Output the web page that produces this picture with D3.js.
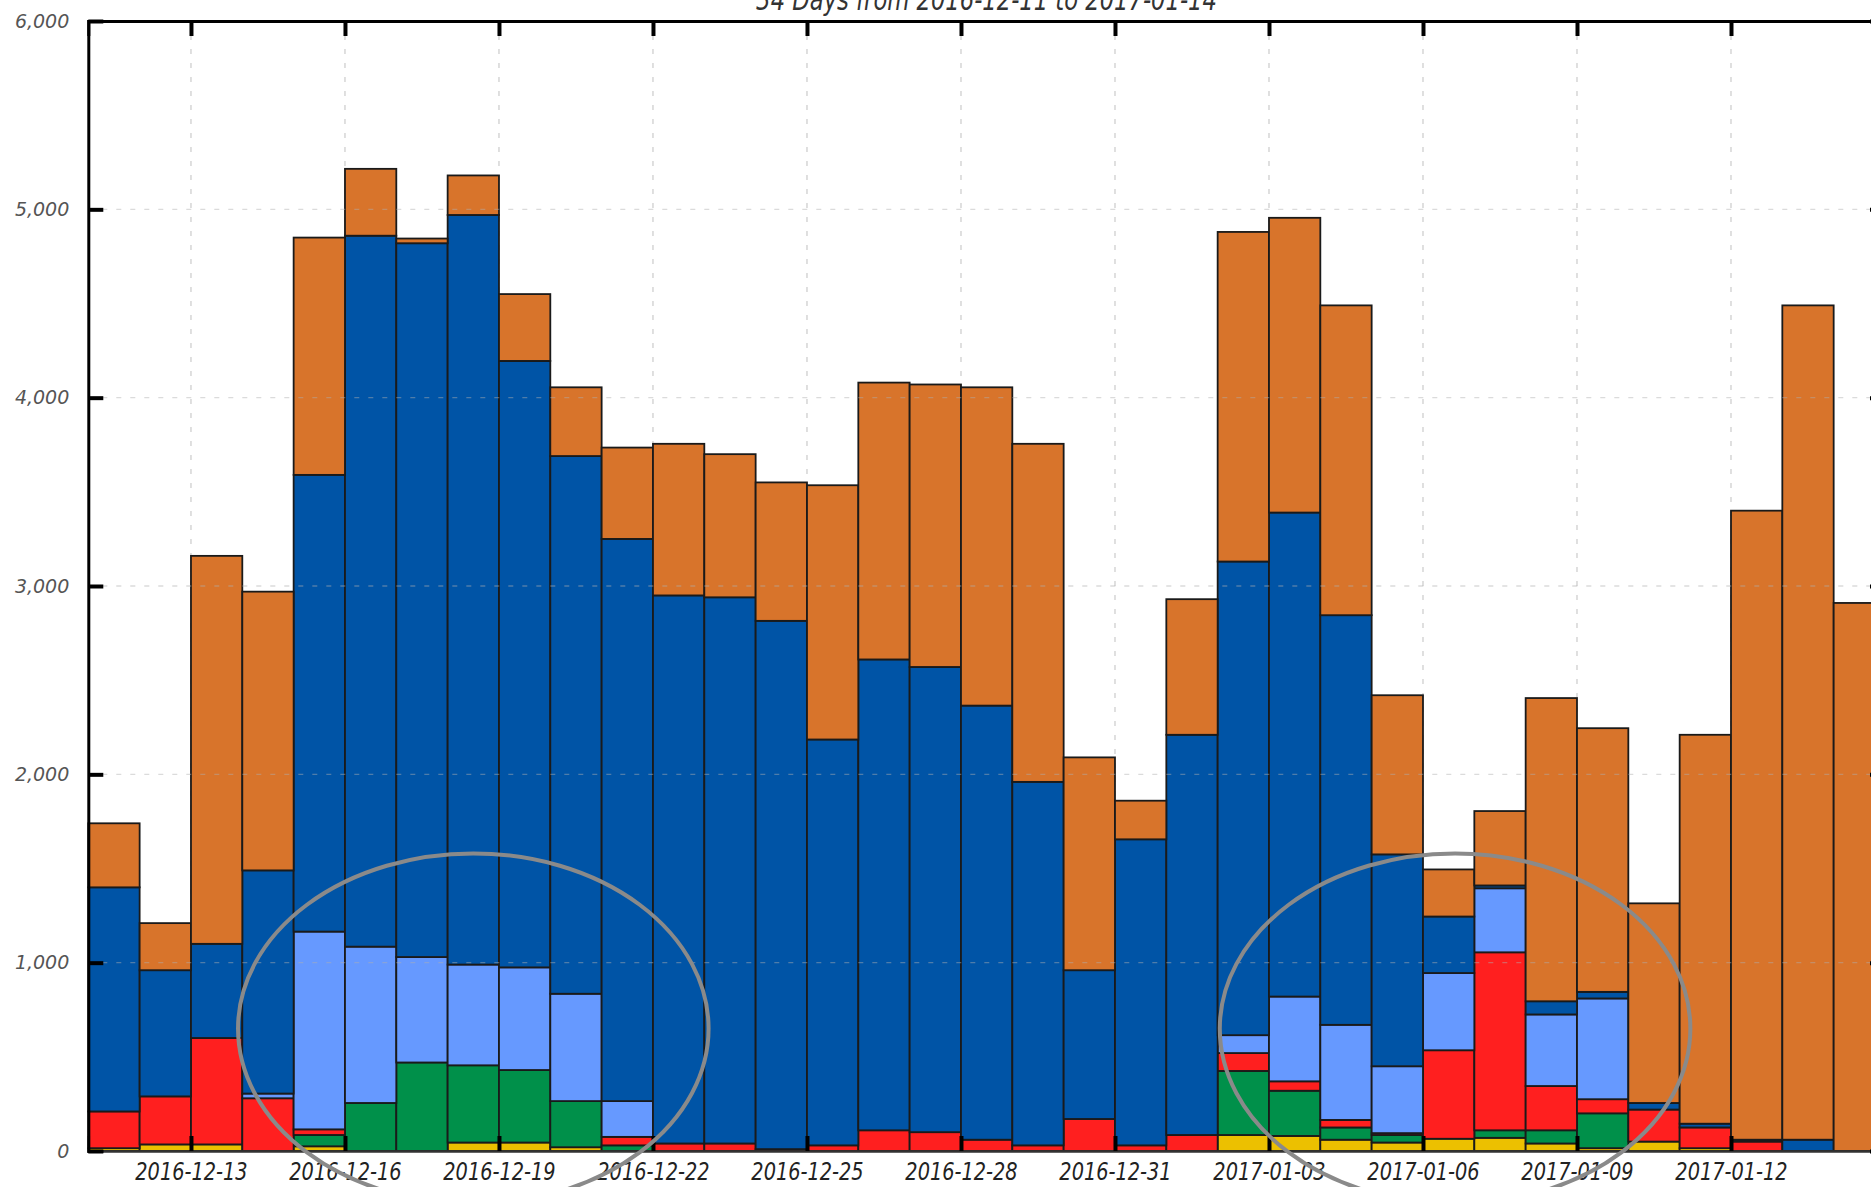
<!DOCTYPE html>
<html>
<head>
<meta charset="utf-8">
<script src="https://cdn.jsdelivr.net/npm/d3@7"></script>
<style>
  html, body { margin: 0; padding: 0; background: #fff; }
  svg { display: block; }
  .xlab text { font-family: "DejaVu Sans Condensed", "DejaVu Sans", sans-serif; font-style: italic; font-size: 25px; fill: #222; }
  .ylab text { font-family: "DejaVu Sans", sans-serif; font-style: italic; font-size: 19px; fill: #555; }
  .title { font-family: "DejaVu Sans Condensed", "DejaVu Sans", sans-serif; font-style: italic; font-size: 30px; fill: #333; }
</style>
</head>
<body>
<svg id="chart" width="1871" height="1187"></svg>
<script>
// One bar per day
const days = [
  "2016-12-11","2016-12-12","2016-12-13","2016-12-14","2016-12-15","2016-12-16","2016-12-17",
  "2016-12-18","2016-12-19","2016-12-20","2016-12-21","2016-12-22","2016-12-23","2016-12-24",
  "2016-12-25","2016-12-26","2016-12-27","2016-12-28","2016-12-29","2016-12-30","2016-12-31",
  "2017-01-01","2017-01-02","2017-01-03","2017-01-04","2017-01-05","2017-01-06","2017-01-07",
  "2017-01-08","2017-01-09","2017-01-10","2017-01-11","2017-01-12","2017-01-13","2017-01-14"
];

// Stacked series, bottom to top
const yellow    = [15,35,35,0,25,0,0,45,45,20,0,0,0,0,0,0,0,0,0,0,0,0,85,80,60,45,65,70,40,15,50,15,0,0,0];
const green     = [0,0,0,0,60,255,470,410,385,245,30,0,0,0,0,0,0,0,0,0,0,0,340,240,65,40,0,40,70,185,0,0,0,0,0];
const red       = [195,255,565,280,30,0,0,0,0,0,45,40,40,10,30,110,100,60,30,170,30,85,95,50,40,10,470,945,235,75,170,110,50,0,0];
const lightBlue = [0,0,0,25,1050,830,560,535,545,570,190,0,0,0,0,0,0,0,0,0,0,0,95,450,505,355,410,340,380,535,0,0,0,0,0];
const darkBlue  = [1190,670,500,1185,2425,3775,3790,3980,3220,2855,2985,2910,2900,2805,2155,2500,2470,2305,1930,790,1625,2125,2515,2570,2175,1125,300,15,70,35,35,20,10,60,0];
const orange    = [340,250,2060,1480,1260,355,25,210,355,365,485,805,760,735,1350,1470,1500,1690,1795,1130,205,720,1750,1565,1645,845,250,395,1610,1400,1060,2065,3340,4430,2910];

const seriesKeys   = ["yellow","green","red","lightBlue","darkBlue","orange"];
const seriesColors = ["#ecc000","#00904a","#ff1f1f","#6699ff","#0054a6","#d8742b"];

const xTickDays = ["2016-12-13","2016-12-16","2016-12-19","2016-12-22","2016-12-25","2016-12-28",
                   "2016-12-31","2017-01-03","2017-01-06","2017-01-09","2017-01-12"];
const yTicks = [0,1000,2000,3000,4000,5000,6000];
const titleText = "34 Days from 2016-12-11 to 2017-01-14";

// Highlighted regions: centre time, centre value, half-width in days, half-height in units
const highlights = [
  { centre: "2016-12-18T12:00", value: 650, halfDays: 4.6, halfValue: 930 },
  { centre: "2017-01-06T15:00", value: 650, halfDays: 4.6, halfValue: 930 }
];

const parseDay = d3.timeParse("%Y-%m-%d");
const parseTime = d3.timeParse("%Y-%m-%dT%H:%M");
const fmtDay = d3.timeFormat("%Y-%m-%d");

const rows = days.map((d, i) => ({
  date: parseDay(d),
  yellow: yellow[i], green: green[i], red: red[i],
  lightBlue: lightBlue[i], darkBlue: darkBlue[i], orange: orange[i]
}));

const plotLeft = 88.3, plotRight = 1885, plotTop = 21, plotBottom = 1151;

const x = d3.scaleTime()
  .domain([parseDay(days[0]), d3.timeDay.offset(parseDay(days[days.length - 1]), 1)])
  .range([plotLeft, plotRight]);
const y = d3.scaleLinear().domain([0, 6000]).range([plotBottom, plotTop]);

const svg = d3.select("#chart");
const xTickDates = xTickDays.map(parseDay);

// Vertical dashed grid, behind the bars
svg.append("g")
  .attr("stroke", "#cfcfcf")
  .attr("stroke-width", 1.3)
  .attr("stroke-dasharray", "5,9")
  .selectAll("line")
  .data(xTickDates)
  .join("line")
  .attr("x1", d => x(d)).attr("x2", d => x(d))
  .attr("y1", plotTop).attr("y2", plotBottom);

// Stacked bars
const stacked = d3.stack().keys(seriesKeys)(rows);
const layers = svg.append("g");
stacked.forEach((layer, k) => {
  layers.append("g")
    .attr("fill", seriesColors[k])
    .selectAll("rect")
    .data(layer.filter(seg => seg[1] - seg[0] > 0))
    .join("rect")
    .attr("x", seg => x(seg.data.date))
    .attr("width", seg => x(d3.timeDay.offset(seg.data.date, 1)) - x(seg.data.date))
    .attr("y", seg => y(seg[1]))
    .attr("height", seg => y(seg[0]) - y(seg[1]))
    .attr("stroke", "#1a1a1a")
    .attr("stroke-width", 1.8);
});

// Horizontal dashed grid, faint over the bars
svg.append("g")
  .attr("stroke", "rgba(175,175,175,0.45)")
  .attr("stroke-width", 1.3)
  .attr("stroke-dasharray", "5,9")
  .selectAll("line")
  .data(yTicks.slice(1, -1))
  .join("line")
  .attr("x1", plotLeft).attr("x2", plotRight)
  .attr("y1", d => y(d)).attr("y2", d => y(d));

// Axes with inward ticks
const xBottom = svg.append("g")
  .attr("class", "xlab")
  .attr("transform", `translate(0,${plotBottom})`)
  .call(d3.axisBottom(x).tickValues(xTickDates).tickFormat(fmtDay).tickSize(-15).tickPadding(11));
xBottom.select(".domain").attr("stroke", "#333").attr("stroke-width", 2.5);
xBottom.selectAll(".tick line").attr("stroke", "#000").attr("stroke-width", 4);
xBottom.selectAll(".tick text").attr("transform", "scale(0.86,1)");

const xTop = svg.append("g")
  .attr("transform", `translate(0,${plotTop})`)
  .call(d3.axisTop(x).tickValues(xTickDates).tickFormat("").tickSize(-15));
xTop.select(".domain").attr("stroke", "#000").attr("stroke-width", 3);
xTop.selectAll(".tick line").attr("stroke", "#000").attr("stroke-width", 4);

const yLeft = svg.append("g")
  .attr("class", "ylab")
  .attr("transform", `translate(${plotLeft},0)`)
  .call(d3.axisLeft(y).tickValues(yTicks).tickFormat(d3.format(",")).tickSize(-15).tickPadding(19));
yLeft.select(".domain").attr("stroke", "#000").attr("stroke-width", 3);
yLeft.selectAll(".tick line").attr("stroke", "#000").attr("stroke-width", 4);

const yRight = svg.append("g")
  .attr("transform", `translate(${plotRight},0)`)
  .call(d3.axisRight(y).tickValues(yTicks).tickFormat("").tickSize(-15));
yRight.select(".domain").attr("stroke", "#000").attr("stroke-width", 3);
yRight.selectAll(".tick line").attr("stroke", "#000").attr("stroke-width", 4);

svg.selectAll(".tick text").attr("stroke", "none");

// Title, centred over the plot
const cx = (plotLeft + plotRight) / 2;
svg.append("text")
  .attr("class", "title")
  .attr("transform", `translate(${cx},10) scale(0.84,1)`)
  .attr("text-anchor", "middle")
  .text(titleText);

// Highlight ellipses
svg.append("g")
  .selectAll("ellipse")
  .data(highlights)
  .join("ellipse")
  .attr("cx", h => x(parseTime(h.centre)))
  .attr("cy", h => y(h.value))
  .attr("rx", h => x(d3.timeHour.offset(parseTime(h.centre), Math.round(h.halfDays * 24))) - x(parseTime(h.centre)))
  .attr("ry", h => y(0) - y(h.halfValue))
  .attr("fill", "none")
  .attr("stroke", "#8a8a8a")
  .attr("stroke-width", 4);
</script>
</body>
</html>
